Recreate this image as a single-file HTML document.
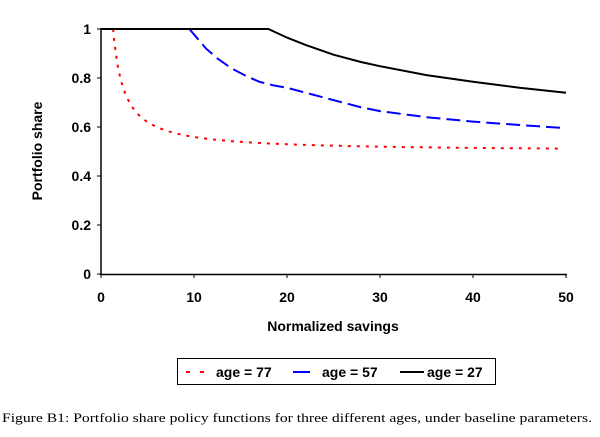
<!DOCTYPE html>
<html><head><meta charset="utf-8"><style>
body{margin:0;background:#fff;width:600px;height:437px;overflow:hidden}
svg{display:block}
.t{font-family:"Liberation Sans",Arial,sans-serif;font-weight:bold;font-size:14px;fill:#000}
</style></head><body>
<svg id="s" width="600" height="437" viewBox="0 0 600 437">
<line x1="101" y1="28" x2="101" y2="275" stroke="#000" stroke-width="1.5"/>
<line x1="100" y1="274.5" x2="567" y2="274.5" stroke="#000" stroke-width="1.5"/>
<g id="ticks" stroke="#000" stroke-width="1"></g>
<g id="labs"></g>
<text class="t" transform="translate(42,151) rotate(-90)" text-anchor="middle">Portfolio share</text>
<text class="t" x="333" y="331" text-anchor="middle">Normalized savings</text>
<path id="red" fill="none" stroke="#f00" stroke-width="2" stroke-dasharray="3,6"/>
<path id="blue" fill="none" stroke="#00f" stroke-width="2" stroke-dasharray="14,6"/>
<path id="black" fill="none" stroke="#000" stroke-width="2"/>
<rect x="177.5" y="358.5" width="318" height="26" fill="#fff" stroke="#000" stroke-width="1"/>
<line x1="186" y1="372" x2="208" y2="372" stroke="#f00" stroke-width="2" stroke-dasharray="4,10"/>
<text class="t" x="216" y="377">age = 77</text>
<line x1="293" y1="372" x2="310" y2="372" stroke="#00f" stroke-width="2"/>
<text class="t" x="322" y="377">age = 57</text>
<line x1="400" y1="372" x2="424" y2="372" stroke="#000" stroke-width="2"/>
<text class="t" x="427" y="377">age = 27</text>
<text x="2" y="422" style="font-family:'Liberation Serif',serif;font-size:12.5px" textLength="590" lengthAdjust="spacingAndGlyphs">Figure B1:  Portfolio share policy functions for three different ages, under baseline parameters.</text>
</svg>
<script>
var X=s=>101+9.3*s, Y=v=>274-245*v;
var ns="http://www.w3.org/2000/svg";
var tk=document.getElementById('ticks'),lb=document.getElementById('labs');
function el(p,t,a,txt){var e=document.createElementNS(ns,t);for(var k in a)e.setAttribute(k,a[k]);if(txt)e.textContent=txt;p.appendChild(e);}
for(var i=0;i<=5;i++){var v=i*0.2,y=Y(v);el(tk,'line',{x1:97,x2:101,y1:y,y2:y});
el(lb,'text',{class:'t',x:91,y:y+5,'text-anchor':'end'},i==0?'0':i==5?'1':v.toFixed(1));}
for(var i=0;i<=5;i++){var x=X(i*10);el(tk,'line',{x1:x,x2:x,y1:274,y2:278});
el(lb,'text',{class:'t',x:x,y:302,'text-anchor':'middle'},String(i*10));}
function path(id,pts){document.getElementById(id).setAttribute('d',pts.map((p,i)=>(i?'L':'M')+X(p[0]).toFixed(1)+' '+Y(p[1]).toFixed(1)).join(''));}
var r=[];for(var s=1.3;s<=50;s+=(s<5?0.1:0.5))r.push([s,0.5+0.5875/(s-0.125)]);
path('red',r);
path('blue',[[9.5,1],[10.5,0.955],[11.3,0.92],[12.5,0.88],[14,0.84],[15.5,0.81],[17,0.785],[18.5,0.77],[20,0.76],[22,0.74],[25,0.71],[28,0.68],[30,0.665],[35,0.64],[40,0.622],[45,0.608],[50,0.595]]);
path('black',[[0,1],[18,1],[20,0.965],[22,0.935],[25,0.895],[28,0.865],[30,0.848],[35,0.812],[40,0.785],[45,0.76],[50,0.74]]);
</script>
</body></html>
